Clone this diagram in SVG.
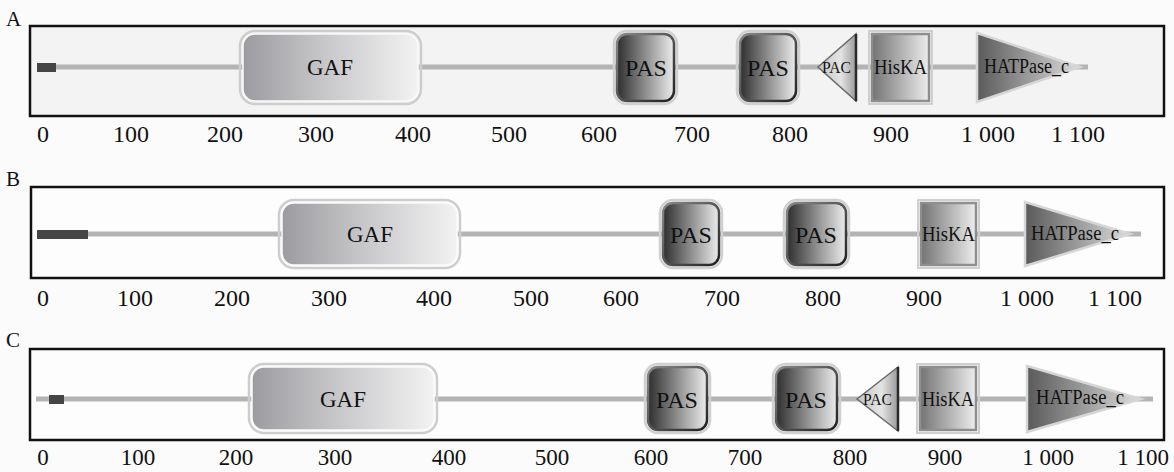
<svg xmlns="http://www.w3.org/2000/svg" width="1174" height="472" viewBox="0 0 1174 472">
<defs>
<linearGradient id="gGaf" x1="0" y1="0" x2="1" y2="0"><stop offset="0" stop-color="#9c9ca0"/><stop offset="0.45" stop-color="#c6c6c9"/><stop offset="1" stop-color="#f2f2f2"/></linearGradient>
<linearGradient id="gPas" x1="0" y1="0" x2="1" y2="0"><stop offset="0" stop-color="#2e2e2e"/><stop offset="0.5" stop-color="#8e8e8e"/><stop offset="1" stop-color="#ececec"/></linearGradient>
<linearGradient id="sPas" x1="0" y1="0" x2="1" y2="1"><stop offset="0" stop-color="#8a8a8a"/><stop offset="0.5" stop-color="#555"/><stop offset="1" stop-color="#222"/></linearGradient>
<linearGradient id="gHis" x1="0" y1="0" x2="1" y2="0"><stop offset="0" stop-color="#737373"/><stop offset="1" stop-color="#ededed"/></linearGradient>
<linearGradient id="gPac" x1="0" y1="0" x2="1" y2="0"><stop offset="0" stop-color="#c4c4c4"/><stop offset="0.6" stop-color="#e4e4e4"/><stop offset="1" stop-color="#9a9a9a"/></linearGradient>
<linearGradient id="gHat" x1="0" y1="0" x2="1" y2="0"><stop offset="0" stop-color="#5a5a5a"/><stop offset="1" stop-color="#dcdcdc"/></linearGradient>
</defs>
<style>
text{font-family:"Liberation Serif","Times New Roman",serif;fill:#111}
.panel{stroke:#111;stroke-width:2.5}
.pl{font-size:21px}
.ax{font-size:24px;text-anchor:middle}
.axc{font-size:23px;text-anchor:middle}
.bb{stroke:#b4b4b4;stroke-width:5;fill:none}
.nt{fill:#454545}
.gafo{fill:none;stroke:#cdcdcd;stroke-width:2.5}
.gaf{fill:url(#gGaf);stroke:#fafafa;stroke-width:1.5}
.paso{fill:none;stroke:#d0d0d0;stroke-width:2.5}
.pas{fill:url(#gPas);stroke:url(#sPas);stroke-width:2.5}
.hiso{fill:none;stroke:#cfcfcf;stroke-width:2}
.his{fill:url(#gHis);stroke:#8e8e8e;stroke-width:2.5}
.pac{fill:url(#gPac);stroke:#6a6a6a;stroke-width:1.5}
.pacb{stroke:#2a2a2a;stroke-width:2.5}
.hat{fill:url(#gHat);stroke:#d6d6d6;stroke-width:2.5}
.tg{font-size:23px;text-anchor:middle}
.tp{font-size:24px;text-anchor:middle}
.th{font-size:21px}
.tc{font-size:16px}
.ta{font-size:20px}
</style>
<rect width="1174" height="472" fill="#fbfbfb"/>

<g id="panelA">
<text class="pl" x="6" y="26">A</text>
<rect class="panel" x="30" y="26" width="1134" height="90" fill="#f3f3f3"/>
</g>
<g id="panelB">
<text class="pl" x="6" y="186">B</text>
<rect class="panel" x="31" y="187" width="1133" height="91" fill="#fdfdfd"/>
</g>
<g id="panelC">
<text class="pl" x="6" y="347">C</text>
<rect class="panel" x="30" y="349" width="1134" height="91" fill="#fdfdfd"/>
</g>

<g id="connectors">
<line class="bb" x1="37" y1="67" x2="1088" y2="67"/>
<line class="bb" x1="37" y1="234" x2="1141" y2="234"/>
<line class="bb" x1="36" y1="399" x2="1153" y2="399"/>
</g>

<!-- A domains -->
<g id="A-nterm"><rect class="nt" x="37" y="63" width="19" height="9"/></g>
<g id="A-GAF"><rect class="gafo" x="240" y="31" width="181" height="73" rx="15"/><rect class="gaf" x="243" y="34" width="175" height="67" rx="12"/><text class="tg" x="330" y="75">GAF</text></g>
<g id="A-PAS1"><rect class="paso" x="614" y="31" width="63" height="73" rx="13"/><rect class="pas" x="617" y="34" width="57" height="67" rx="10"/><text class="tp" x="646" y="76">PAS</text></g>
<g id="A-PAS2"><rect class="paso" x="737" y="31" width="62" height="73" rx="13"/><rect class="pas" x="740" y="34" width="56" height="67" rx="10"/><text class="tp" x="768" y="76">PAS</text></g>
<g id="A-PAC"><polygon class="pac" points="818,67 856,34 856,101"/><line class="pacb" x1="856" y1="34" x2="856" y2="101"/><text class="tc" x="822" y="73" textLength="29" lengthAdjust="spacingAndGlyphs">PAC</text></g>
<g id="A-HisKA"><rect class="hiso" x="869" y="31" width="63" height="73"/><rect class="his" x="872" y="34" width="57" height="67"/><text class="th" x="874" y="74" textLength="53" lengthAdjust="spacingAndGlyphs">HisKA</text></g>
<g id="A-HATPase"><polygon class="hat" points="977,33 1080,67 977,102"/><text class="ta" x="984" y="73" textLength="85" lengthAdjust="spacingAndGlyphs">HATPase_c</text></g>

<!-- B domains -->
<g id="B-nterm"><rect class="nt" x="37" y="230" width="51" height="9"/></g>
<g id="B-GAF"><rect class="gafo" x="279" y="200" width="181" height="68" rx="15"/><rect class="gaf" x="282" y="203" width="175" height="62" rx="12"/><text class="tg" x="370" y="242">GAF</text></g>
<g id="B-PAS1"><rect class="paso" x="660" y="200" width="62" height="68" rx="13"/><rect class="pas" x="663" y="203" width="56" height="62" rx="10"/><text class="tp" x="691" y="243">PAS</text></g>
<g id="B-PAS2"><rect class="paso" x="784" y="200" width="65" height="68" rx="13"/><rect class="pas" x="787" y="203" width="59" height="62" rx="10"/><text class="tp" x="816" y="243">PAS</text></g>
<g id="B-HisKA"><rect class="hiso" x="918" y="200" width="61" height="68"/><rect class="his" x="921" y="203" width="55" height="62"/><text class="th" x="922" y="241" textLength="53" lengthAdjust="spacingAndGlyphs">HisKA</text></g>
<g id="B-HATPase"><polygon class="hat" points="1025,202 1130,234 1025,266"/><text class="ta" x="1031" y="240" textLength="88" lengthAdjust="spacingAndGlyphs">HATPase_c</text></g>

<!-- C domains -->
<g id="C-nterm"><rect class="nt" x="49" y="395" width="15" height="9"/></g>
<g id="C-GAF"><rect class="gafo" x="249" y="364" width="188" height="69" rx="15"/><rect class="gaf" x="252" y="367" width="182" height="63" rx="12"/><text class="tg" x="343" y="407">GAF</text></g>
<g id="C-PAS1"><rect class="paso" x="645" y="364" width="65" height="69" rx="13"/><rect class="pas" x="648" y="367" width="59" height="63" rx="10"/><text class="tp" x="677" y="408">PAS</text></g>
<g id="C-PAS2"><rect class="paso" x="773" y="364" width="67" height="69" rx="13"/><rect class="pas" x="776" y="367" width="61" height="63" rx="10"/><text class="tp" x="806" y="408">PAS</text></g>
<g id="C-PAC"><polygon class="pac" points="857,399 898,367 898,431"/><line class="pacb" x1="898" y1="367" x2="898" y2="431"/><text class="tc" x="863" y="405" textLength="29" lengthAdjust="spacingAndGlyphs">PAC</text></g>
<g id="C-HisKA"><rect class="hiso" x="917" y="364" width="62" height="69"/><rect class="his" x="920" y="367" width="56" height="63"/><text class="th" x="922" y="406" textLength="52" lengthAdjust="spacingAndGlyphs">HisKA</text></g>
<g id="C-HATPase"><polygon class="hat" points="1027,366 1141,399 1027,432"/><text class="ta" x="1036" y="404" textLength="88" lengthAdjust="spacingAndGlyphs">HATPase_c</text></g>

<g id="axisA">
<text class="ax" x="43" y="142">0</text><text class="ax" x="131" y="142">100</text><text class="ax" x="225" y="142">200</text><text class="ax" x="316" y="142">300</text><text class="ax" x="413" y="142">400</text><text class="ax" x="509" y="142">500</text><text class="ax" x="599" y="142">600</text><text class="ax" x="692" y="142">700</text><text class="ax" x="790" y="142">800</text><text class="ax" x="891" y="142">900</text><text class="ax" x="988" y="142">1 000</text><text class="ax" x="1078" y="142">1 100</text>
</g>
<g id="axisB">
<text class="ax" x="43" y="306">0</text><text class="ax" x="135" y="306">100</text><text class="ax" x="232" y="306">200</text><text class="ax" x="329" y="306">300</text><text class="ax" x="434" y="306">400</text><text class="ax" x="531" y="306">500</text><text class="ax" x="621" y="306">600</text><text class="ax" x="722" y="306">700</text><text class="ax" x="823" y="306">800</text><text class="ax" x="924" y="306">900</text><text class="ax" x="1027" y="306">1 000</text><text class="ax" x="1115" y="306">1 100</text>
</g>
<g id="axisC">
<text class="axc" x="43" y="465">0</text><text class="axc" x="138" y="465">100</text><text class="axc" x="236" y="465">200</text><text class="axc" x="335" y="465">300</text><text class="axc" x="449" y="465">400</text><text class="axc" x="552" y="465">500</text><text class="axc" x="651" y="465">600</text><text class="axc" x="745" y="465">700</text><text class="axc" x="850" y="465">800</text><text class="axc" x="945" y="465">900</text><text class="axc" x="1048" y="465">1 000</text><text class="axc" x="1143" y="465">1 100</text>
</g>
</svg>
